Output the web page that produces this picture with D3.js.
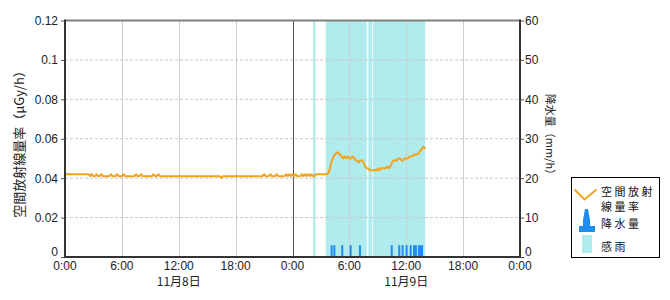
<!DOCTYPE html>
<html><head><meta charset="utf-8">
<script src="https://cdn.jsdelivr.net/npm/d3@7"></script>
<style>
body{margin:0;background:#fff;}
text{font-family:"Noto Sans CJK JP","DejaVu Sans",sans-serif;}
</style></head>
<body>
<svg id="chart" width="670" height="300"></svg>
<script>
// ---- data ----
const xTickLabels = ["0:00","6:00","12:00","18:00","0:00","6:00","12:00","18:00","0:00"];
const xTickTimes = ["8 00:00","8 06:00","8 12:00","8 18:00","9 00:00","9 06:00","9 12:00","9 18:00","10 00:00"];
const dateLabels = ["11月8日","11月9日"];
const dateLabelTimes = ["8 12:00","9 12:00"];
const doseTicks = [0,0.02,0.04,0.06,0.08,0.1,0.12];
const doseTickLabels = ["0","0.02","0.04","0.06","0.08","0.1","0.12"];
const rainTicks = [0,10,20,30,40,50,60];
const leftTitle = "空間放射線量率（μGy/h）";
const rightTitle = "降水量（mm/h）";
const legendLabels = [["空間放射","線量率"],["降水量"],["感雨"]];

// 空間放射線量率 (μGy/h)
const doseRate = [
 ["8 00:00",0.042],["8 02:30",0.042],["8 02:40",0.041],["8 02:50",0.042],["8 03:00",0.041],
 ["8 03:10",0.041],["8 03:20",0.042],["8 03:30",0.041],["8 03:40",0.041],["8 03:50",0.042],
 ["8 04:00",0.041],["8 04:40",0.041],["8 04:50",0.042],["8 05:00",0.041],["8 05:20",0.041],
 ["8 05:30",0.042],["8 05:40",0.041],["8 06:00",0.041],["8 06:10",0.042],["8 06:20",0.041],
 ["8 07:20",0.041],["8 07:30",0.042],["8 07:40",0.041],["8 07:50",0.041],["8 08:00",0.042],
 ["8 08:10",0.041],["8 09:10",0.041],["8 09:20",0.042],["8 09:30",0.041],["8 09:40",0.041],
 ["8 09:50",0.042],["8 10:00",0.041],["8 16:20",0.041],["8 16:30",0.040],["8 16:40",0.041],
 ["8 20:50",0.041],["8 21:00",0.042],["8 21:10",0.041],["8 21:30",0.041],["8 21:40",0.042],
 ["8 21:50",0.041],["8 22:10",0.041],["8 22:20",0.042],["8 22:30",0.041],["8 23:10",0.041],
 ["8 23:20",0.042],["8 23:30",0.041],["8 23:40",0.042],["8 23:50",0.041],["9 00:00",0.042],
 ["9 00:10",0.041],["9 00:20",0.042],["9 00:30",0.041],["9 00:50",0.041],["9 01:00",0.042],
 ["9 01:10",0.041],["9 01:20",0.042],["9 01:30",0.041],["9 01:40",0.042],["9 01:50",0.041],
 ["9 02:00",0.042],["9 02:10",0.041],["9 02:20",0.041],["9 02:30",0.042],["9 03:40",0.042],
 ["9 03:50",0.043],["9 04:00",0.046],["9 04:10",0.049],["9 04:20",0.051],["9 04:30",0.052],
 ["9 04:40",0.053],["9 04:50",0.053],["9 05:00",0.052],["9 05:10",0.051],["9 05:20",0.050],
 ["9 05:30",0.051],["9 05:40",0.050],["9 05:50",0.051],["9 06:00",0.050],["9 06:10",0.050],
 ["9 06:20",0.051],["9 06:30",0.050],["9 06:40",0.049],["9 06:50",0.049],["9 07:00",0.048],
 ["9 07:10",0.049],["9 07:20",0.049],["9 07:30",0.048],["9 07:40",0.046],["9 07:50",0.045],
 ["9 08:00",0.045],["9 08:10",0.044],["9 08:20",0.044],["9 08:30",0.044],["9 08:40",0.044],
 ["9 08:50",0.044],["9 09:00",0.045],["9 09:10",0.044],["9 09:20",0.045],["9 09:30",0.045],
 ["9 09:40",0.045],["9 09:50",0.045],["9 10:00",0.046],["9 10:10",0.045],["9 10:20",0.046],
 ["9 10:30",0.048],["9 10:40",0.049],["9 10:50",0.049],["9 11:00",0.049],["9 11:10",0.050],
 ["9 11:20",0.050],["9 11:30",0.049],["9 11:40",0.049],["9 11:50",0.050],["9 12:00",0.050],
 ["9 12:10",0.050],["9 12:20",0.051],["9 12:30",0.051],["9 12:40",0.051],["9 12:50",0.052],
 ["9 13:00",0.052],["9 13:10",0.052],["9 13:20",0.053],["9 13:30",0.054],["9 13:40",0.055],
 ["9 13:50",0.056],["9 14:00",0.055]
];
// 感雨 periods
const rainSense = [["9 02:10","9 02:25"],["9 03:30","9 07:50"],["9 08:00","9 08:25"],["9 08:30","9 14:00"]];
// 降水量 (mm/h)
const rainfall = [
 ["9 04:08",3],["9 04:25",3],["9 05:15",3],["9 06:08",3],["9 07:07",3],
 ["9 10:28",3],["9 11:16",3],["9 11:37",3],["9 12:02",3],["9 12:28",3],
 ["9 12:49",3],["9 13:01",3],["9 13:20",3],["9 13:30",3],["9 13:40",3]
];

// ---- chart ----
const parse = d3.timeParse("%d %H:%M");
const svg = d3.select("#chart");
const L = 65, R = 520, T = 20.5, B = 257;
const x = d3.scaleTime().domain([parse("8 00:00"), parse("10 00:00")]).range([L, R]);
const yL = d3.scaleLinear().domain([0, 0.12]).range([B, T]);
const yR = d3.scaleLinear().domain([0, 60]).range([B, T]);
const orange = "#f2a31b", blue = "#1e8cf0", cyan = "#b0ebee";

// rain sense bands
svg.append("g").selectAll("rect").data(rainSense).join("rect")
  .attr("x", d => x(parse(d[0])))
  .attr("width", d => x(parse(d[1])) - x(parse(d[0])))
  .attr("y", T).attr("height", B - T).attr("fill", cyan);

// horizontal grid (dashed)
svg.append("g").selectAll("line").data(doseTicks.slice(1, -1)).join("line")
  .attr("x1", L).attr("x2", R).attr("y1", d => yL(d)).attr("y2", d => yL(d))
  .attr("stroke", "#c8c8c8").attr("stroke-dasharray", "3,2").attr("stroke-width", 1);

// vertical grid
svg.append("g").selectAll("line").data(xTickTimes.slice(1, -1)).join("line")
  .attr("x1", d => Math.round(x(parse(d))) + 0.5).attr("x2", d => Math.round(x(parse(d))) + 0.5)
  .attr("y1", T).attr("y2", B)
  .attr("stroke", d => d === "9 00:00" ? "#555" : "#cfcfcf").attr("stroke-width", 1);

// rainfall bars
svg.append("g").selectAll("rect").data(rainfall).join("rect")
  .attr("x", d => x(parse(d[0])) - 1).attr("width", 2)
  .attr("y", d => yR(d[1])).attr("height", d => B - yR(d[1]))
  .attr("fill", blue);

// dose line
svg.append("path").datum(doseRate)
  .attr("d", d3.line().x(d => x(parse(d[0]))).y(d => yL(d[1])))
  .attr("fill", "none").attr("stroke", orange).attr("stroke-width", 2)
  .attr("stroke-linejoin", "round");

// frame
svg.append("line").attr("x1", L).attr("x2", R).attr("y1", T).attr("y2", T)
  .attr("stroke", "#808080").attr("stroke-width", 2);
svg.append("line").attr("x1", L).attr("x2", L).attr("y1", T - 1).attr("y2", B + 1)
  .attr("stroke", "#333").attr("stroke-width", 2);
svg.append("line").attr("x1", R).attr("x2", R).attr("y1", T - 1).attr("y2", B + 1)
  .attr("stroke", "#333").attr("stroke-width", 2);
svg.append("line").attr("x1", L).attr("x2", R).attr("y1", B).attr("y2", B)
  .attr("stroke", "#333").attr("stroke-width", 2);

// left axis
const gl = svg.append("g").attr("transform", `translate(${L - 1},0)`)
  .call(d3.axisLeft(yL).tickValues(doseTicks).tickSize(3).tickFormat((d, i) => doseTickLabels[i]));
gl.select(".domain").remove();
gl.selectAll(".tick line").attr("stroke", "#555");
gl.selectAll("text").attr("font-size", 12).attr("fill", "#222").attr("x", -6)
  .style("font-family", "'Liberation Sans', sans-serif");
gl.selectAll(".tick").filter(d => d === 0).select("text").attr("dy", "-0.1em");

// right axis
const gr = svg.append("g").attr("transform", `translate(${R + 1},0)`)
  .call(d3.axisRight(yR).tickValues(rainTicks).tickSize(3));
gr.select(".domain").remove();
gr.selectAll(".tick line").attr("stroke", "#555");
gr.selectAll("text").attr("font-size", 12).attr("fill", "#222").attr("x", 4)
  .style("font-family", "'Liberation Sans', sans-serif");
gr.selectAll(".tick").filter(d => d === 0).select("text").attr("dy", "-0.1em");

// x labels
svg.append("g").selectAll("text").data(xTickTimes).join("text")
  .attr("x", d => x(parse(d))).attr("y", 269.5)
  .attr("text-anchor", "middle").attr("font-size", 12).attr("fill", "#222")
  .style("font-family", "'Liberation Sans', sans-serif")
  .text((d, i) => xTickLabels[i]);
svg.append("g").selectAll("text").data(dateLabelTimes).join("text")
  .attr("x", d => x(parse(d))).attr("y", 286)
  .attr("text-anchor", "middle").attr("font-size", 12).attr("fill", "#222")
  .text((d, i) => dateLabels[i]);

// axis titles
svg.append("text").attr("transform", "translate(24,141) rotate(-90)")
  .attr("text-anchor", "middle").attr("font-size", 13).attr("fill", "#222").text(leftTitle);
svg.append("text").attr("transform", "translate(546,137) rotate(90)")
  .attr("text-anchor", "middle").attr("font-size", 11).attr("fill", "#222").text(rightTitle);

// legend
const lg = svg.append("g");
lg.append("rect").attr("x", 571.5).attr("y", 177.5).attr("width", 88).attr("height", 80)
  .attr("fill", "#fff").attr("stroke", "#000").attr("stroke-width", 1);
lg.append("path").attr("d", "M574.5,189.5 L584.5,199.5 L596.5,189.5")
  .attr("fill", "none").attr("stroke", orange).attr("stroke-width", 2);
lg.append("path").attr("d", "M585,209 L588,209 L590,220 L590,226 L595,226 L595,232 L579,232 L579,226 L583,226 L583,220 Z")
  .attr("fill", blue);
lg.append("rect").attr("x", 582).attr("y", 235).attr("width", 10).attr("height", 18).attr("fill", cyan);
const legendY = [[196, 211], [228], [251]];
legendLabels.forEach((lines, i) => {
  lines.forEach((s, j) => {
    lg.append("text").attr("x", 601).attr("y", legendY[i][j])
      .attr("font-size", 11).attr("letter-spacing", 2.5).attr("fill", "#111").text(s);
  });
});
</script>
</body></html>
